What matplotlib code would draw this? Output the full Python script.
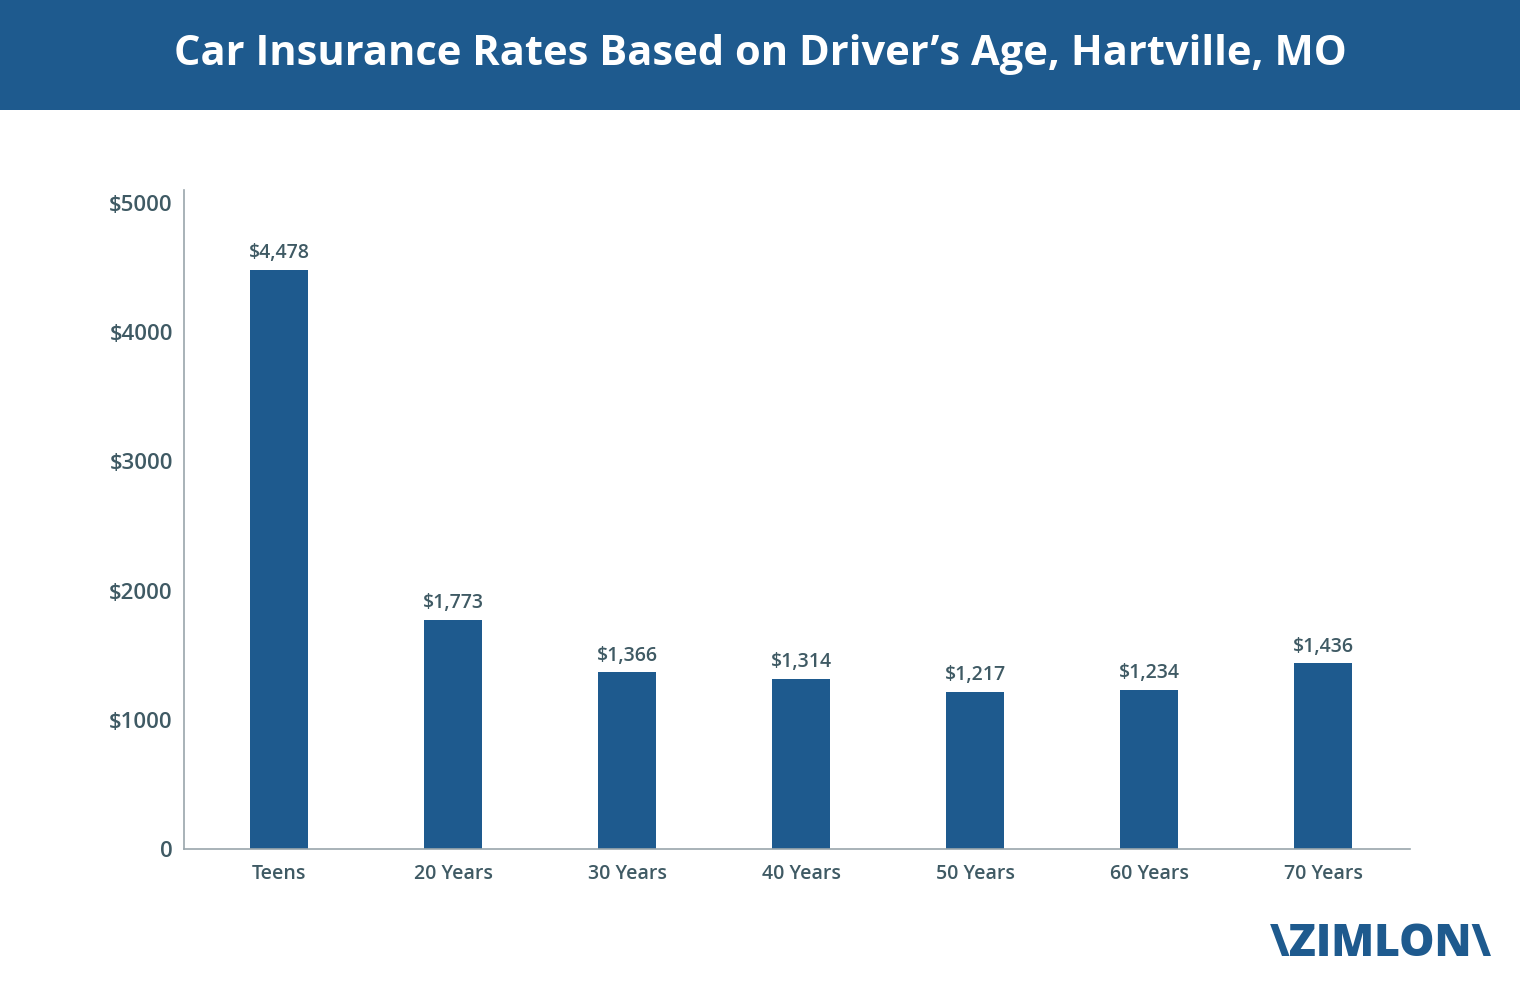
import matplotlib.pyplot as plt
from matplotlib.patches import Rectangle
from matplotlib.ticker import FixedLocator

ages = ["Teens", "20 Years", "30 Years", "40 Years", "50 Years", "60 Years", "70 Years"]
rates = [4478, 1773, 1366, 1314, 1217, 1234, 1436]
y_ticks = [0, 1000, 2000, 3000, 4000, 5000]
y_tick_labels = ["0", "$1000", "$2000", "$3000", "$4000", "$5000"]

BLUE = "#1e5a8e"
TEXT = "#3f5a64"
AXIS = "#9aa6ac"
plt.rcParams["font.family"] = ["Open Sans", "DejaVu Sans"]

fig = plt.figure(figsize=(15.2, 9.91), dpi=100)
fig.patch.set_facecolor("white")

# header band
fig.patches.append(Rectangle((0, 1 - 110 / 991), 1, 110 / 991, transform=fig.transFigure,
                             facecolor=BLUE, edgecolor="none", zorder=0))
fig.text(0.5, 1 - 55 / 991, "Car Insurance Rates Based on Driver\u2019s Age, Hartville, MO",
         ha="center", va="center", color="white", fontsize=30, fontweight="bold")

ax = fig.add_axes([184 / 1520, 1 - 849 / 991, (1410 - 184) / 1520, (849 - 190) / 991])
x = range(len(ages))
bars = ax.bar(x, rates, width=0.335, color=BLUE, zorder=2)
for b, v in zip(bars, rates):
    ax.annotate(f"${v:,}", (b.get_x() + b.get_width() / 2, v), xytext=(0, 5),
                textcoords="offset points", ha="center", va="bottom",
                fontsize=14, fontweight="semibold", color=TEXT)

ax.set_xlim(-0.546, 6.5)
ax.set_ylim(0, 5100)
ax.yaxis.set_major_locator(FixedLocator(y_ticks))
ax.set_yticklabels(y_tick_labels)
ax.set_xticks(list(x))
ax.set_xticklabels(ages)
ax.tick_params(axis="both", length=0, colors=TEXT)
ax.tick_params(axis="y", pad=8, labelsize=16)
ax.tick_params(axis="x", pad=11, labelsize=14)
for lbl in ax.get_xticklabels() + ax.get_yticklabels():
    lbl.set_fontweight("semibold")
for s in ("top", "right"):
    ax.spines[s].set_visible(False)
for s in ("left", "bottom"):
    ax.spines[s].set_color(AXIS)
    ax.spines[s].set_linewidth(1.2)

fig.text(1381 / 1520, 1 - 945 / 991, "\\ZIMLON\\", ha="center", va="center",
         color=BLUE, fontsize=32, fontweight="heavy")

fig.savefig("out.png", dpi=100)
